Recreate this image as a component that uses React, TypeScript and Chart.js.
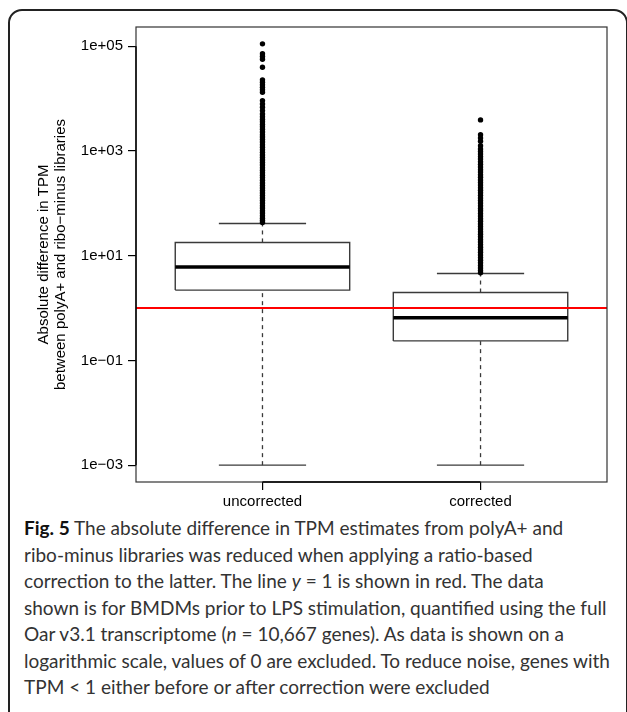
import React, { useEffect, useRef } from "react";
import { Chart, registerables } from "chart.js";

Chart.register(...registerables);

// ---- data ----
const categories = ["uncorrected", "corrected"];
const whiskerLow = [0.001, 0.001];
const q1 = [2.2, 0.236];
const medians = [6.1, 0.65];
const q3 = [17.9, 1.98];
const whiskerHigh = [41.3, 4.57];

const outliersUncorrected = [
  111000, 71600, 63500, 56400, 39600, 22800, 20500, 18300, 16400, 14700, 13200,
  9150, 7920, 6820, 5900, 5100, 4500, 4000, 3600, 3200, 2900, 2600, 2300, 2050,
  1850, 1650, 1480, 1320, 1180, 1050, 940, 840, 750, 670, 600, 540, 480, 430,
  385, 345, 310, 275, 245, 220, 197, 176, 158, 141, 126, 113, 101, 90, 81, 72,
  65, 58, 52, 47, 43,
];
const outliersCorrected = [
  3920, 2050, 1770, 1530, 1260, 1090, 980, 870, 780, 700, 620, 555, 495, 440,
  395, 350, 315, 280, 250, 223, 199, 178, 159, 142, 127, 113, 101, 90, 80, 72,
  64, 57, 51, 45.5, 40.5, 36, 32.2, 28.8, 25.7, 22.9, 20.4, 18.2, 16.3, 14.5,
  13, 11.6, 10.3, 9.2, 8.2, 7.3, 6.5, 5.8, 5.2, 4.7,
];

const yTickValues = [0.001, 0.1, 10, 1000, 100000];
const yTickLabels = ["1e\u221203", "1e\u221201", "1e+01", "1e+03", "1e+05"];
const referenceLine = 1;
const yTitle = [
  "Absolute difference in TPM",
  "between polyA+ and ribo\u2212minus libraries",
];

const outliers = [outliersUncorrected, outliersCorrected];

// R-style axis limits: data range extended by 4%
const allVals = [...whiskerLow, ...whiskerHigh, ...outliersUncorrected, ...outliersCorrected];
const logLo = Math.log10(Math.min(...allVals));
const logHi = Math.log10(Math.max(...allVals));
const logExt = (logHi - logLo) * 0.04;
const yMin = Math.pow(10, logLo - logExt);
const yMax = Math.pow(10, logHi + logExt);
const xLo = 0.5;
const xHi = categories.length + 0.5;
const xExt = (xHi - xLo) * 0.04;

const AXIS_FONT = '"Liberation Sans", Arial, Helvetica, sans-serif';

const framePlugin = {
  id: "rframe",
  afterDatasetsDraw(chart: any) {
    const { ctx, chartArea: a, scales } = chart;
    const py = scales.y.getPixelForValue(referenceLine);
    ctx.save();
    ctx.strokeStyle = "#ff0000";
    ctx.lineWidth = 2;
    ctx.beginPath();
    ctx.moveTo(a.left, py);
    ctx.lineTo(a.right, py);
    ctx.stroke();
    ctx.restore();
  },
  afterDraw(chart: any) {
    const { ctx, chartArea: a, scales } = chart;
    ctx.save();
    ctx.strokeStyle = "#333";
    ctx.lineWidth = 1.2;
    ctx.strokeRect(a.left, a.top, a.right - a.left, a.bottom - a.top);
    // R axis lines spanning first..last tick
    ctx.strokeStyle = "#000";
    ctx.lineWidth = 1.4;
    ctx.beginPath();
    const x1 = scales.x.getPixelForValue(1);
    const x2 = scales.x.getPixelForValue(categories.length);
    ctx.moveTo(x1, a.bottom);
    ctx.lineTo(x2, a.bottom);
    const y1 = scales.y.getPixelForValue(yTickValues[0]);
    const y2 = scales.y.getPixelForValue(yTickValues[yTickValues.length - 1]);
    ctx.moveTo(a.left, y1);
    ctx.lineTo(a.left, y2);
    ctx.stroke();
    ctx.restore();
  },
};

function buildDatasets() {
  const ds: any[] = [];
  const boxHalf = 0.4;
  const capHalf = 0.2;
  const lineCol = "#3a3a3a";
  categories.forEach((_, i) => {
    const x = i + 1;
    ds.push({
      data: outliers[i].map((v) => ({ x, y: v })),
      showLine: false,
      pointRadius: 2.7,
      pointBackgroundColor: "#000",
      pointBorderWidth: 0,
      order: 0,
    });
    ds.push({
      data: [
        { x: x - boxHalf, y: medians[i] },
        { x: x + boxHalf, y: medians[i] },
      ],
      showLine: true,
      borderColor: "#000",
      borderWidth: 3.5,
      pointRadius: 0,
      borderCapStyle: "butt",
      order: 1,
    });
    ds.push({
      data: [
        { x: x - boxHalf, y: q1[i] },
        { x: x + boxHalf, y: q1[i] },
        { x: x + boxHalf, y: q3[i] },
        { x: x - boxHalf, y: q3[i] },
        { x: x - boxHalf, y: q1[i] },
      ],
      showLine: true,
      borderColor: lineCol,
      borderWidth: 1.4,
      borderJoinStyle: "miter",
      pointRadius: 0,
      order: 2,
    });
    ds.push({
      data: [
        { x, y: whiskerLow[i] },
        { x, y: q1[i] },
      ],
      showLine: true,
      borderColor: lineCol,
      borderWidth: 1.3,
      borderDash: [4, 4],
      pointRadius: 0,
      order: 3,
    });
    ds.push({
      data: [
        { x, y: q3[i] },
        { x, y: whiskerHigh[i] },
      ],
      showLine: true,
      borderColor: lineCol,
      borderWidth: 1.3,
      borderDash: [4, 4],
      pointRadius: 0,
      order: 3,
    });
    ds.push({
      data: [
        { x: x - capHalf, y: whiskerLow[i] },
        { x: x + capHalf, y: whiskerLow[i] },
      ],
      showLine: true,
      borderColor: lineCol,
      borderWidth: 1.4,
      pointRadius: 0,
      order: 3,
    });
    ds.push({
      data: [
        { x: x - capHalf, y: whiskerHigh[i] },
        { x: x + capHalf, y: whiskerHigh[i] },
      ],
      showLine: true,
      borderColor: lineCol,
      borderWidth: 1.4,
      pointRadius: 0,
      order: 3,
    });
  });
  return ds;
}

function BoxChart() {
  const ref = useRef<HTMLCanvasElement | null>(null);
  useEffect(() => {
    if (!ref.current) return;
    const chart = new Chart(ref.current, {
      type: "scatter",
      data: { datasets: buildDatasets() },
      options: {
        animation: false,
        responsive: false,
        devicePixelRatio: 1,
        events: [],
        layout: { padding: { top: 27, right: 20, left: 0, bottom: 0 } },
        plugins: {
          legend: { display: false },
          tooltip: { enabled: false },
        },
        scales: {
          x: {
            type: "linear",
            min: xLo - xExt,
            max: xHi + xExt,
            afterBuildTicks: (s: any) => {
              s.ticks = categories.map((_, i) => ({ value: i + 1 }));
            },
            afterFit: (s: any) => {
              s.height = 33;
            },
            ticks: {
              callback: (_v: any, idx: number) => categories[idx],
              font: { family: AXIS_FONT, size: 15 },
              color: "#000",
              padding: 3,
              maxRotation: 0,
              autoSkip: false,
            },
            grid: {
              drawOnChartArea: false,
              drawTicks: true,
              tickLength: 8,
              color: "#000",
              lineWidth: 1.2,
            },
            border: { display: false },
          },
          y: {
            type: "logarithmic",
            min: yMin,
            max: yMax,
            afterBuildTicks: (s: any) => {
              s.ticks = yTickValues.map((v) => ({ value: v }));
            },
            afterFit: (s: any) => {
              s.width = 136;
            },
            ticks: {
              callback: (_v: any, idx: number) => yTickLabels[idx],
              font: { family: AXIS_FONT, size: 15 },
              color: "#000",
              padding: 5,
              autoSkip: false,
            },
            grid: {
              drawOnChartArea: false,
              drawTicks: true,
              tickLength: 8,
              color: "#000",
              lineWidth: 1.2,
            },
            border: { display: false },
            title: {
              display: true,
              text: yTitle,
              font: { family: AXIS_FONT, size: 15, lineHeight: 1.1 },
              color: "#000",
              padding: { top: 36, bottom: 0 },
            },
          },
        },
      },
      plugins: [framePlugin],
    } as any);
    return () => chart.destroy();
  }, []);
  return (
    <canvas
      ref={ref}
      width={627}
      height={515}
      style={{ position: "absolute", left: 0, top: 0, width: 627, height: 515 }}
    />
  );
}

export default function App() {
  const lineStyle: React.CSSProperties = { whiteSpace: "nowrap", height: 26.5 };
  return (
    <div
      style={{
        position: "absolute",
        left: 0,
        top: 0,
        width: 627,
        height: 712,
        overflow: "hidden",
        background: "#fff",
      }}
    >
      <div
        style={{
          position: "absolute",
          left: 8,
          top: 9,
          width: 616,
          height: 760,
          border: "2px solid #222",
          borderRadius: 14,
          boxSizing: "content-box",
        }}
      />
      <BoxChart />
      <div
        style={{
          position: "absolute",
          left: 24,
          top: 515,
          fontFamily: 'Lato, "Open Sans", sans-serif',
          fontSize: 19,
          lineHeight: "26.5px",
          color: "#333",
        }}
      >
        <div style={lineStyle}>
          <b style={{ color: "#111" }}>Fig. 5</b> The absolute difference in TPM estimates from polyA+ and
        </div>
        <div style={lineStyle}>ribo-minus libraries was reduced when applying a ratio-based</div>
        <div style={lineStyle}>
          correction to the latter. The line <i>y</i> = 1 is shown in red. The data
        </div>
        <div style={lineStyle}>
          shown is for BMDMs prior to LPS stimulation, quantified using the full
        </div>
        <div style={lineStyle}>
          Oar v3.1 transcriptome (<i>n</i> = 10,667 genes). As data is shown on a
        </div>
        <div style={lineStyle}>
          logarithmic scale, values of 0 are excluded. To reduce noise, genes with
        </div>
        <div style={lineStyle}>TPM &lt; 1 either before or after correction were excluded</div>
      </div>
    </div>
  );
}
